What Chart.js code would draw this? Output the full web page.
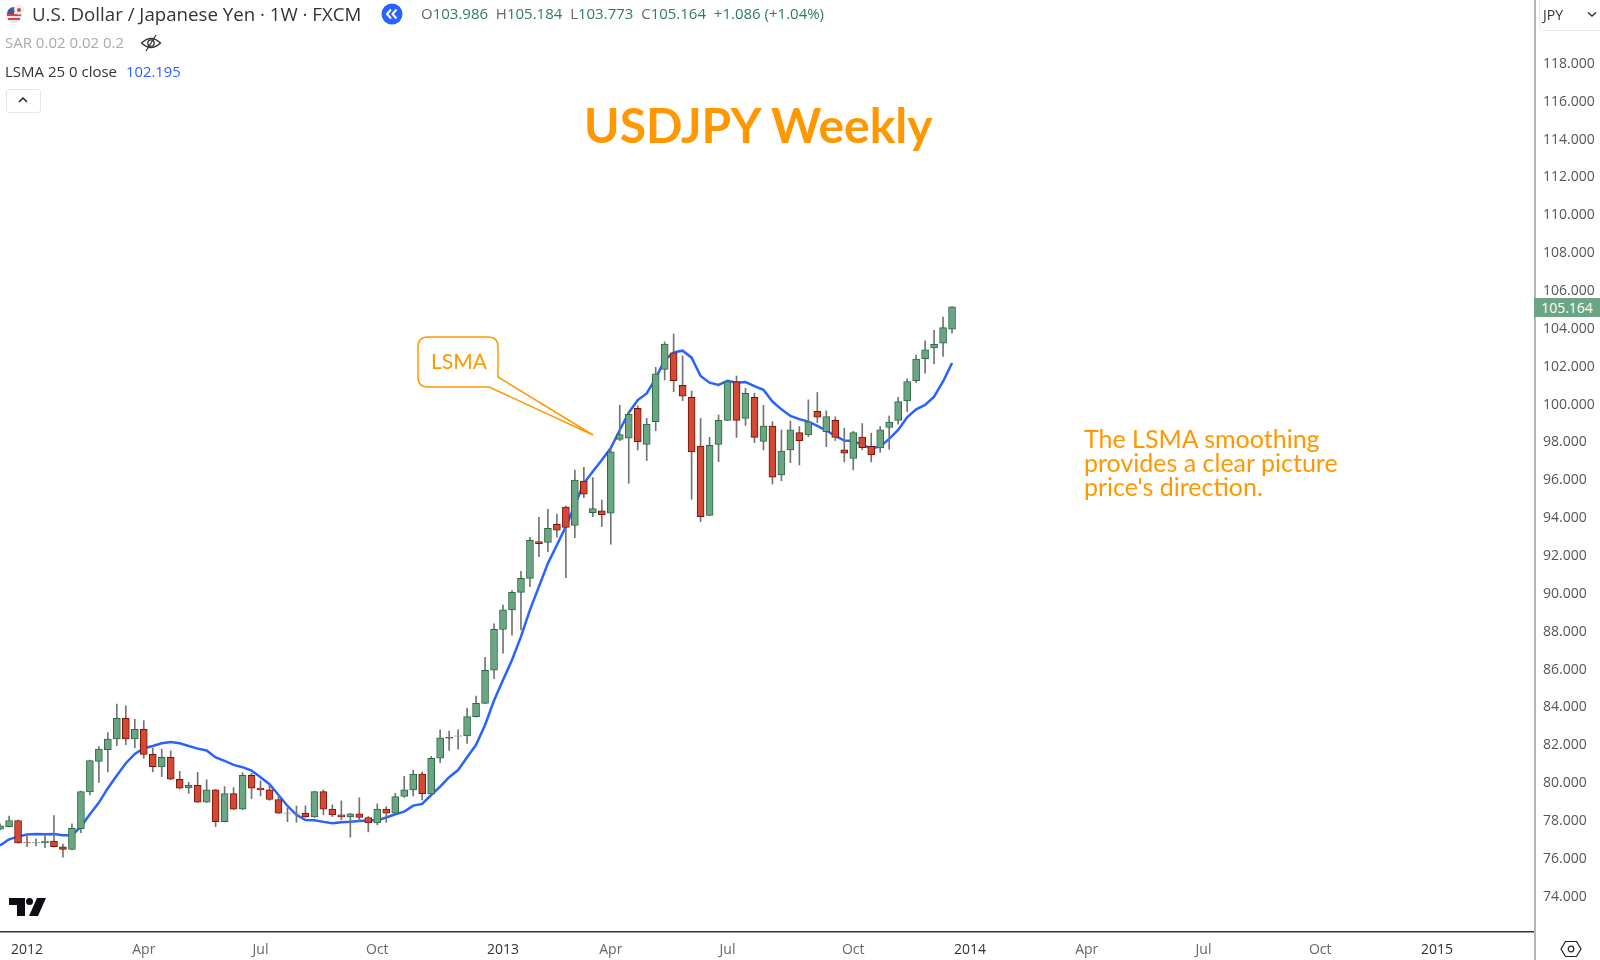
<!DOCTYPE html>
<html>
<head>
<meta charset="utf-8">
<title>USDJPY Weekly</title>
<script src="https://cdn.jsdelivr.net/npm/chart.js@4/dist/chart.umd.min.js"></script>
<style>
  html, body { margin: 0; padding: 0; background: #fff; }
  #wrap { position: relative; width: 1600px; height: 960px; overflow: hidden; font-family: "Open Sans", sans-serif; }
  #wrap canvas { position: absolute; left: 0; top: 0; }
  .t { position: absolute; white-space: nowrap; line-height: 1; }
  .up { color: #2f7d5b; }
  .note { font-family: Lato, sans-serif; color: #ff9800; }
  svg { position: absolute; overflow: visible; }
</style>
</head>
<body>
<div id="wrap">
  <canvas id="chart" width="1600" height="960"></canvas>

  <div style="position:absolute;left:1534px;top:0;width:1.5px;height:960px;background:#b5b5b5"></div>

  <!-- legend -->
  <svg style="left:5px;top:3px" width="22" height="22" viewBox="0 0 22 22">
    <circle cx="9" cy="12" r="8" fill="#e4e4ea"/>
    <path d="M3 8h12M2 12h14M3 16h12" stroke="#d8443c" stroke-width="2"/>
    <path d="M2 11a7 7 0 0 1 7-7v7z" fill="#3c5aa8"/>
    <circle cx="14" cy="7" r="4.5" fill="#f2f2f2" stroke="#ccc" stroke-width=".5"/>
    <circle cx="14" cy="7" r="2" fill="#d8443c"/>
  </svg>
  <div class="t" style="left:32px;top:5px;font-size:18.7px;color:#333">U.S. Dollar / Japanese Yen · 1W · FXCM</div>
  <svg style="left:381px;top:3px" width="22" height="22" viewBox="0 0 22 22">
    <circle cx="11" cy="11" r="10.5" fill="#2962ff"/>
    <path d="M10 6.5 6 11l4 4.500M15.500 6.500l-4 4.500 4 4.500" fill="none" stroke="#fff" stroke-width="2"/>
  </svg>
  <div class="t" style="left:421px;top:6px;font-size:15px;color:#666">O<span class="up">103.986</span>&nbsp; H<span class="up">105.184</span>&nbsp; L<span class="up">103.773</span>&nbsp; C<span class="up">105.164</span>&nbsp; <span class="up">+1.086 (+1.04%)</span></div>
  <div class="t" style="left:5px;top:35px;font-size:15px;color:#aaa">SAR 0.02 0.02 0.2</div>
  <svg style="left:140px;top:33px" width="22" height="20" viewBox="0 0 22 20">
    <path d="M1.500 10Q11 1 20.500 10Q11 19 1.500 10z" fill="none" stroke="#333" stroke-width="1.300"/>
    <circle cx="11" cy="10" r="3.200" fill="none" stroke="#333" stroke-width="1.300"/>
    <path d="M16 2 6 18" stroke="#333" stroke-width="1.300"/>
  </svg>
  <div class="t" style="left:5px;top:64px;font-size:15px;color:#333">LSMA 25 0 close</div>
  <div class="t" style="left:126px;top:64px;font-size:14.800px;color:#2962ff">102.195</div>
  <div style="position:absolute;left:6px;top:89px;width:33px;height:22px;border:1px solid #e6e6e6;border-radius:3px;box-sizing:content-box"></div>
  <svg style="left:17px;top:96px" width="12" height="8" viewBox="0 0 12 8"><path d="M2 6 6 2l4 4" fill="none" stroke="#222" stroke-width="1.500"/></svg>

  <!-- price scale extras -->
  <div style="position:absolute;left:1539px;top:-4px;width:70px;height:33px;border:1px solid #e8e8e8;border-radius:5px"></div>
  <div class="t" style="left:1543px;top:8px;font-size:14px;color:#333">JPY</div>
  <svg style="left:1587px;top:11px" width="10" height="7" viewBox="0 0 10 7"><path d="M1 1.500 5 5l4-3.500" fill="none" stroke="#333" stroke-width="1.500"/></svg>
  <div class="t" style="left:1534px;top:298px;width:66px;height:19px;background:#6ba583;color:#fff;font-size:14px;line-height:19px;text-align:center">105.164</div>
  <svg style="left:1560px;top:938px" width="22" height="22" viewBox="0 0 22 22">
    <path d="M5.500 3.500h11L21 11l-4.500 7.500h-11L1 11z" fill="none" stroke="#222" stroke-width="1.200"/>
    <circle cx="11" cy="11" r="2.800" fill="none" stroke="#222" stroke-width="1.200"/>
  </svg>

  <!-- logo -->
  <svg style="left:9px;top:897px" width="38" height="20" viewBox="0 0 38 20">
    <path d="M0 1h16v18H8V8H0z" fill="#0c0e12"/>
    <circle cx="20.500" cy="4.500" r="3.500" fill="#0c0e12"/>
    <path d="M28 1h9l-8 18h-9z" fill="#0c0e12"/>
  </svg>

  <!-- annotations -->
  <div class="t note" style="left:584px;top:101px;font-size:48px;font-weight:700">USDJPY Weekly</div>
  <svg style="left:0;top:0" width="1600" height="960" viewBox="0 0 1600 960">
    <path d="M428 337H488Q498 337 498 347V377L593 435L489 387H428Q418 387 418 377V347Q418 337 428 337Z" fill="#fff" fill-opacity="0" stroke="#ff9800" stroke-width="1.500"/>
  </svg>
  <div class="t note" style="left:431px;top:350px;font-size:21px">LSMA</div>
  <div class="t note" style="left:1084px;top:426px;font-size:25px;line-height:24px">The LSMA smoothing<br>provides a clear picture<br>price's direction.</div>
</div>

<script>
// weekly USDJPY
const opens = [
  77.56,77.70,78.02,76.86,76.85,76.84,76.93,76.63,76.49,77.59,
  79.53,81.15,81.77,82.33,83.42,82.33,82.84,81.52,80.85,81.36,
  80.20,79.74,79.88,78.99,79.64,77.96,79.44,78.62,80.41,79.74,
  79.64,79.13,78.42,78.41,78.41,78.21,79.55,78.62,78.32,78.21,
  78.37,78.18,77.89,78.62,78.41,79.29,79.64,80.47,79.43,81.31,
  82.42,82.48,82.49,83.51,84.21,85.96,88.12,89.15,90.08,90.82,
  92.76,92.72,93.67,94.59,93.62,95.96,94.29,94.39,94.26,98.16,
  98.22,99.80,97.90,99.10,101.86,102.74,101.02,100.38,97.81,94.15,
  97.90,99.17,101.21,99.27,100.38,98.06,98.87,96.28,97.61,98.52,
  98.40,99.65,98.57,99.17,97.61,97.15,98.28,97.80,97.71,98.79,
  99.17,100.19,101.27,102.43,103.00,103.24,103.986
];
const highs = [
  77.84,78.26,78.04,77.31,77.05,77.31,78.28,76.77,77.84,79.58,
  81.22,81.93,82.67,84.18,84.08,83.37,83.30,81.84,81.79,81.70,
  80.62,80.04,80.57,80.17,79.67,79.81,79.76,80.55,80.52,80.11,
  79.94,79.37,78.67,78.79,78.79,79.57,79.64,78.85,79.06,78.41,
  79.22,78.23,78.90,78.76,79.46,80.36,80.68,80.59,81.40,82.81,
  82.75,82.81,83.95,84.60,86.64,88.41,89.41,90.17,91.19,92.99,
  94.04,94.46,94.22,94.64,96.54,96.68,96.14,94.96,97.69,99.96,
  99.63,99.93,99.27,101.97,103.31,103.73,102.57,100.72,99.27,98.27,
  99.45,101.30,101.51,100.86,100.60,99.96,99.10,98.66,99.13,98.84,
  100.25,100.64,99.67,99.35,98.75,98.59,99.00,98.49,98.84,99.40,
  100.39,101.36,102.61,103.37,103.93,104.62,105.184
];
const lows = [
  77.52,77.68,76.82,76.64,76.68,76.59,76.62,76.08,76.47,77.38,
  79.37,80.03,80.59,81.98,82.03,81.87,81.31,80.59,80.34,80.18,
  79.69,79.46,78.97,78.97,77.70,77.94,78.60,78.60,79.18,79.32,
  79.09,78.39,77.96,77.93,78.19,78.19,78.32,78.23,78.05,77.14,
  77.96,77.42,77.79,77.93,78.39,79.25,79.32,79.11,79.41,81.08,
  81.72,81.79,82.10,83.48,84.19,85.52,86.86,87.82,88.09,90.38,
  91.96,92.23,92.99,90.85,92.97,95.08,94.08,93.55,92.62,98.09,
  95.84,97.60,97.04,98.62,101.30,100.68,100.21,95.00,93.81,94.13,
  96.98,99.15,98.27,98.90,97.99,97.60,95.80,95.98,96.93,96.81,
  98.31,99.05,97.78,98.10,96.97,96.55,97.61,96.97,97.48,97.64,
  98.96,99.63,101.16,101.66,102.15,102.54,103.773
];
const closes = [
  77.74,78.02,76.84,76.85,76.86,76.94,76.64,76.49,77.61,79.55,
  81.19,81.79,82.33,83.42,82.33,82.84,81.52,80.87,81.36,80.20,
  79.73,79.88,78.99,79.64,77.96,79.44,78.62,80.41,79.73,79.64,
  79.13,78.41,78.41,78.42,78.21,79.55,78.62,78.32,78.21,78.37,
  78.18,77.89,78.62,78.41,79.29,79.64,80.47,79.44,81.31,82.39,
  82.37,82.50,83.51,84.22,85.96,88.12,89.15,90.08,90.82,92.83,
  92.65,93.46,93.37,93.51,96.01,95.26,94.50,94.18,97.50,98.41,
  99.49,98.04,98.97,101.62,103.20,101.26,100.45,97.50,94.08,97.85,
  99.17,101.21,99.17,100.60,98.27,98.87,96.17,97.55,98.66,98.10,
  99.09,99.33,99.37,98.26,97.43,98.52,97.73,97.34,98.66,99.07,
  100.16,101.22,102.40,102.89,103.19,104.07,105.164
];
const lsma = [
  76.70,77.03,77.17,77.28,77.31,77.30,77.31,77.24,77.24,77.70,
  78.35,78.97,79.73,80.40,81.05,81.54,81.84,81.96,82.10,82.17,
  82.10,81.96,81.82,81.72,81.35,81.17,80.96,80.84,80.66,80.31,
  79.94,79.37,78.79,78.32,78.05,78.03,77.95,77.88,77.93,77.95,
  78.00,78.02,78.03,78.18,78.35,78.49,78.81,78.90,79.37,79.81,
  80.31,80.69,81.36,82.02,83.07,84.36,85.45,86.50,87.74,89.15,
  90.38,91.61,92.58,93.55,94.69,95.84,96.46,97.07,97.70,98.66,
  99.57,100.24,100.59,101.39,102.36,102.76,102.85,102.48,101.51,101.16,
  101.04,101.26,101.16,101.19,100.98,100.78,100.16,99.75,99.40,99.23,
  99.10,98.87,98.63,98.35,98.10,98.08,97.87,97.69,97.78,98.19,
  98.66,99.33,99.75,99.98,100.42,101.22,102.195
];
const priceTicks = [118,116,114,112,110,108,106,104,102,100,98,96,94,92,90,88,86,84,82,80,78,76,74];
const timeTickWeeks = [3,16,29,42,56,68,81,95,108,121,134,147,160];
const timeTickLabels = ['2012','Apr','Jul','Oct','2013','Apr','Jul','Oct','2014','Apr','Jul','Oct','2015'];

const GREEN = '#6ba583', GREEN_EDGE = '#2b6b44';
const RED = '#d04a36', RED_EDGE = '#7a1205';
const WICK = '#737375';

const isUp = i => closes[i] >= opens[i];
const weeks = opens.map((_, i) => i);

// chart.js reserves room for the outer tick labels, the axes here run edge to edge
const noPadding = s => { s.paddingTop = s.paddingBottom = s.paddingLeft = s.paddingRight = 0; };

new Chart(document.getElementById('chart'), {
  type: 'bar',
  data: {
    datasets: [
      {
        type: 'line',
        label: 'LSMA',
        data: weeks.map(i => ({ x: i, y: lsma[i] })),
        borderColor: '#2962ff',
        borderWidth: 2.5,
        pointRadius: 0,
        tension: 0,
        order: 3
      },
      {
        label: 'Wicks',
        data: weeks.map(i => ({ x: i, y: [lows[i], highs[i]] })),
        backgroundColor: WICK,
        barThickness: 1,
        order: 2
      },
      {
        label: 'Bodies',
        data: weeks.map(i => ({ x: i, y: [opens[i], closes[i]] })),
        backgroundColor: weeks.map(i => isUp(i) ? GREEN : RED),
        borderColor: weeks.map(i => isUp(i) ? GREEN_EDGE : RED_EDGE),
        borderWidth: 1,
        borderSkipped: false,
        barThickness: 7,
        order: 1
      }
    ]
  },
  options: {
    responsive: false,
    animation: false,
    layout: { padding: 0 },
    plugins: { legend: { display: false }, tooltip: { enabled: false } },
    datasets: { bar: { grouped: false } },
    scales: {
      x: {
        type: 'linear',
        offset: false,
        bounds: 'data',
        min: -0.01,
        max: 170.8,
        grid: { display: false, drawTicks: false },
        border: { color: '#333', width: 1.5 },
        afterBuildTicks: s => { s.ticks = timeTickWeeks.map(value => ({ value })); },
        afterFit: s => { s.height = 28; noPadding(s); },
        ticks: {
          autoSkip: false,
          maxRotation: 0,
          padding: 10,
          font: { family: '"Open Sans", sans-serif', size: 14 },
          color: ctx => /^\d+$/.test(ctx.tick.label) ? '#333' : '#666',
          callback: v => timeTickLabels[timeTickWeeks.indexOf(v)]
        }
      },
      y: {
        position: 'right',
        bounds: 'data',
        min: 72.13,
        max: 121.38,
        grid: { display: false, drawTicks: false },
        border: { display: false },
        afterBuildTicks: s => { s.ticks = priceTicks.map(value => ({ value })); },
        afterFit: s => { s.width = 66; noPadding(s); },
        ticks: {
          autoSkip: false,
          padding: 9,
          font: { family: '"Open Sans", sans-serif', size: 14 },
          color: '#555',
          callback: v => v.toFixed(3)
        }
      }
    }
  }
});
</script>
</body>
</html>
